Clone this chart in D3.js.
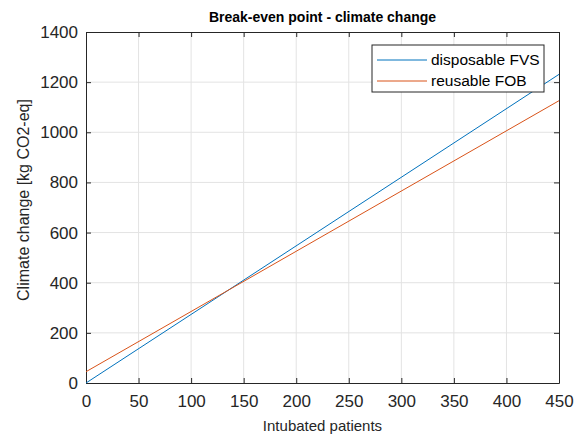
<!DOCTYPE html>
<html>
<head>
<meta charset="utf-8">
<script src="https://cdn.jsdelivr.net/npm/d3@7"></script>
<style>
  body { margin: 0; background: #fff; }
  text { font-family: "Liberation Sans", Arial, sans-serif; }
</style>
</head>
<body>
<svg id="canvas"></svg>
<script>
// Data.
var patients = [0, 450];
var disposableFVS = [0, 1231];
var reusableFOB = [45, 1126];
var seriesNames = ['disposable FVS', 'reusable FOB'];
var xTicks = [0, 50, 100, 150, 200, 250, 300, 350, 400, 450];
var yTicks = [0, 200, 400, 600, 800, 1000, 1200, 1400];

// Canvas dimensions.
var canvasWidth = 581;
var canvasHeight = 437;
var plotLeft = 86, plotRight = 559, plotTop = 32, plotBottom = 383;

var svg = d3.select('#canvas')
            .attr('width', canvasWidth)
            .attr('height', canvasHeight);

var xScale = d3.scaleLinear().domain([0, 450]).range([plotLeft, plotRight]);
var yScale = d3.scaleLinear().domain([0, 1400]).range([plotBottom, plotTop]);

// Grid lines.
svg.append('g').selectAll('line')
   .data(xTicks.slice(1, -1))
   .enter().append('line')
   .attr('x1', function(d) { return xScale(d); })
   .attr('x2', function(d) { return xScale(d); })
   .attr('y1', plotTop).attr('y2', plotBottom)
   .attr('stroke', '#e3e3e3').attr('stroke-width', 1);
svg.append('g').selectAll('line')
   .data(yTicks.slice(1, -1))
   .enter().append('line')
   .attr('y1', function(d) { return yScale(d); })
   .attr('y2', function(d) { return yScale(d); })
   .attr('x1', plotLeft).attr('x2', plotRight)
   .attr('stroke', '#e3e3e3').attr('stroke-width', 1);

// Axes with inward ticks.
var styleAxis = function(g) {
  g.selectAll('.domain').attr('stroke', '#262626');
  g.selectAll('.tick line').attr('stroke', '#262626');
  g.selectAll('.tick text').attr('fill', '#262626').style('font-size', '17px');
};
svg.append('g')
   .attr('transform', 'translate(0,' + plotBottom + ')')
   .call(d3.axisBottom(xScale).tickValues(xTicks).tickFormat(d3.format('d'))
           .tickSizeInner(-5).tickSizeOuter(0).tickPadding(12))
   .call(styleAxis);
svg.append('g')
   .attr('transform', 'translate(0,' + plotTop + ')')
   .call(d3.axisTop(xScale).tickValues(xTicks).tickSizeInner(-5).tickSizeOuter(0).tickFormat(''))
   .call(styleAxis);
svg.append('g')
   .attr('transform', 'translate(' + plotLeft + ',0)')
   .call(d3.axisLeft(yScale).tickValues(yTicks).tickFormat(d3.format('d'))
           .tickSizeInner(-5).tickSizeOuter(0).tickPadding(8))
   .call(styleAxis);
svg.append('g')
   .attr('transform', 'translate(' + plotRight + ',0)')
   .call(d3.axisRight(yScale).tickValues(yTicks).tickSizeInner(-5).tickSizeOuter(0).tickFormat(''))
   .call(styleAxis);

// Lines.
var colors = ['#0072BD', '#D95319'];
var series = [disposableFVS, reusableFOB];
var line = d3.line()
             .x(function(d, i) { return xScale(patients[i]); })
             .y(function(d) { return yScale(d); });
series.forEach(function(s, k) {
  svg.append('path')
     .datum(s)
     .attr('d', line)
     .attr('fill', 'none')
     .attr('stroke', colors[k])
     .attr('stroke-width', 1);
});

// Title and axis labels.
svg.append('text')
   .attr('x', (plotLeft + plotRight) / 2).attr('y', 22)
   .attr('text-anchor', 'middle')
   .style('font-size', '14px').style('font-weight', 'bold')
   .attr('fill', '#000')
   .text('Break-even point - climate change');
svg.append('text')
   .attr('x', (plotLeft + plotRight) / 2).attr('y', 431)
   .attr('text-anchor', 'middle')
   .style('font-size', '15px')
   .attr('fill', '#262626')
   .text('Intubated patients');
svg.append('text')
   .attr('transform', 'translate(29,200) rotate(-90)')
   .attr('text-anchor', 'middle')
   .style('font-size', '16px')
   .attr('fill', '#262626')
   .text('Climate change [kg CO2-eq]');

// Legend.
var legend = svg.append('g');
legend.append('rect')
      .attr('x', 372).attr('y', 45)
      .attr('width', 172).attr('height', 47)
      .attr('fill', '#fff').attr('stroke', '#262626').attr('stroke-width', 1);
seriesNames.forEach(function(name, k) {
  var y = 60 + k * 21;
  legend.append('line')
        .attr('x1', 377).attr('x2', 427)
        .attr('y1', y).attr('y2', y)
        .attr('stroke', colors[k]).attr('stroke-width', 1);
  legend.append('text')
        .attr('x', 431).attr('y', y + 5)
        .style('font-size', '15.5px')
        .attr('fill', '#000')
        .text(name);
});
</script>
</body>
</html>
